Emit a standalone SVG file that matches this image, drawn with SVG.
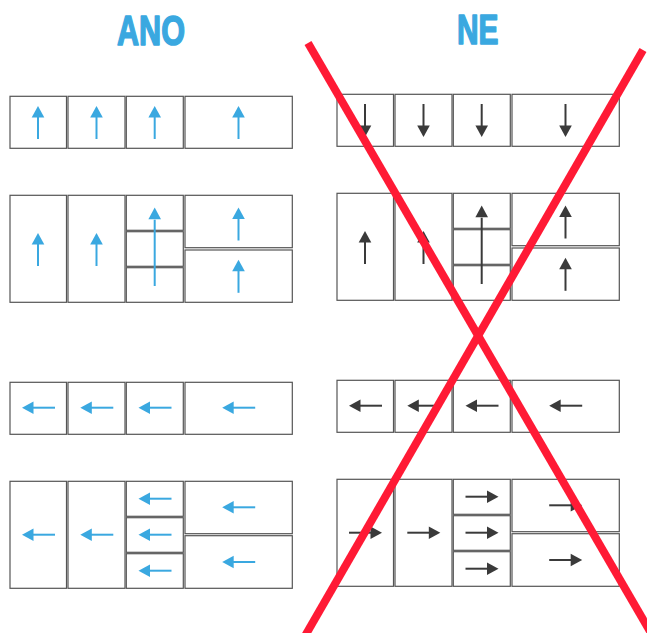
<svg xmlns="http://www.w3.org/2000/svg" xmlns:xlink="http://www.w3.org/1999/xlink" width="647" height="633" viewBox="0 0 647 633">
<style>
.box{fill:#fff;stroke:#555;stroke-width:1.2}
.blue{color:#3aa8e0}
.dark{color:#3a3a3a}
.title{font-family:"Liberation Sans","DejaVu Sans",sans-serif;font-weight:bold;font-size:42px;fill:#3aa8e0;stroke:#3aa8e0;stroke-width:1.6;stroke-linejoin:round}
.cross{stroke:#ff1a35;stroke-width:8;fill:none}
</style>
<defs>
<g id="up">
<line x1="0" y1="-6" x2="0" y2="16.5" stroke="currentColor" stroke-width="2"/>
<polygon points="0,-16.5 -6.3,-5 6.3,-5" fill="currentColor"/>
</g>
<g id="uplong">
<line x1="0" y1="-27" x2="0" y2="39.3" stroke="currentColor" stroke-width="2"/>
<polygon points="0,-39.3 -6.3,-27.5 6.3,-27.5" fill="currentColor"/>
</g>
</defs>
<rect width="647" height="633" fill="#fff"/>
<g id="title-ano"><text class="title" x="117" y="45" textLength="68" lengthAdjust="spacingAndGlyphs">ANO</text></g>
<g id="title-ne"><text class="title" x="457" y="43.5" textLength="41.5" lengthAdjust="spacingAndGlyphs">NE</text></g>

<!-- LEFT: ANO -->
<g id="ano-row1">
<rect class="box" x="10" y="96.3" width="56.5" height="52"/>
<rect class="box" x="68" y="96.3" width="57" height="52"/>
<rect class="box" x="126.3" y="96.3" width="57" height="52"/>
<rect class="box" x="185" y="96.3" width="107.3" height="52"/>
<g class="blue">
<use xlink:href="#up" transform="translate(38,122.5)"/>
<use xlink:href="#up" transform="translate(96.5,122.5)"/>
<use xlink:href="#up" transform="translate(154.7,122.5)"/>
<use xlink:href="#up" transform="translate(238.5,122.5)"/>
</g>
</g>
<g id="ano-row2">
<rect class="box" x="10" y="195.3" width="56.5" height="107"/>
<rect class="box" x="68" y="195.3" width="57" height="107"/>
<rect class="box" x="126.3" y="195.3" width="57" height="35"/>
<rect class="box" x="126.3" y="231.7" width="57" height="34.6"/>
<rect class="box" x="126.3" y="267.7" width="57" height="34.6"/>
<rect class="box" x="185" y="195.3" width="107.3" height="52.4"/>
<rect class="box" x="185" y="250" width="107.3" height="52.3"/>
<g class="blue">
<use xlink:href="#up" transform="translate(38,249.5)"/>
<use xlink:href="#up" transform="translate(96.5,249.5)"/>
<use xlink:href="#uplong" transform="translate(154.7,246.7)"/>
<use xlink:href="#up" transform="translate(238.5,224)"/>
<use xlink:href="#up" transform="translate(238.5,276.3)"/>
</g>
</g>
<g id="ano-row3">
<rect class="box" x="10" y="382.3" width="56.5" height="52"/>
<rect class="box" x="68" y="382.3" width="57" height="52"/>
<rect class="box" x="126.3" y="382.3" width="57" height="52"/>
<rect class="box" x="185" y="382.3" width="107.3" height="52"/>
<g class="blue">
<use xlink:href="#up" transform="translate(38.5,407.7) rotate(-90)"/>
<use xlink:href="#up" transform="translate(96.8,407.7) rotate(-90)"/>
<use xlink:href="#up" transform="translate(155,407.7) rotate(-90)"/>
<use xlink:href="#up" transform="translate(238.7,407.7) rotate(-90)"/>
</g>
</g>
<g id="ano-row4">
<rect class="box" x="10" y="481.3" width="56.5" height="107"/>
<rect class="box" x="68" y="481.3" width="57" height="107"/>
<rect class="box" x="126.3" y="481.3" width="57" height="35"/>
<rect class="box" x="126.3" y="517.7" width="57" height="34.6"/>
<rect class="box" x="126.3" y="553.7" width="57" height="34.6"/>
<rect class="box" x="185" y="481.3" width="107.3" height="52.4"/>
<rect class="box" x="185" y="535.7" width="107.3" height="52.6"/>
<g class="blue">
<use xlink:href="#up" transform="translate(38.5,534.7) rotate(-90)"/>
<use xlink:href="#up" transform="translate(96.8,534.7) rotate(-90)"/>
<use xlink:href="#up" transform="translate(155,498.7) rotate(-90)"/>
<use xlink:href="#up" transform="translate(155,534.7) rotate(-90)"/>
<use xlink:href="#up" transform="translate(155,570.7) rotate(-90)"/>
<use xlink:href="#up" transform="translate(238.7,507.3) rotate(-90)"/>
<use xlink:href="#up" transform="translate(238.7,562) rotate(-90)"/>
</g>
</g>

<!-- RIGHT: NE -->
<g id="ne-row1">
<rect class="box" x="337" y="94.3" width="56.5" height="52"/>
<rect class="box" x="395" y="94.3" width="57" height="52"/>
<rect class="box" x="453.3" y="94.3" width="57" height="52"/>
<rect class="box" x="512" y="94.3" width="107.3" height="52"/>
<g class="dark">
<use xlink:href="#up" transform="translate(365,120.5) rotate(180)"/>
<use xlink:href="#up" transform="translate(423.5,120.5) rotate(180)"/>
<use xlink:href="#up" transform="translate(481.7,120.5) rotate(180)"/>
<use xlink:href="#up" transform="translate(565.5,120.5) rotate(180)"/>
</g>
</g>
<g id="ne-row2">
<rect class="box" x="337" y="193.3" width="56.5" height="107"/>
<rect class="box" x="395" y="193.3" width="57" height="107"/>
<rect class="box" x="453.3" y="193.3" width="57" height="35"/>
<rect class="box" x="453.3" y="229.7" width="57" height="34.6"/>
<rect class="box" x="453.3" y="265.7" width="57" height="34.6"/>
<rect class="box" x="512" y="193.3" width="107.3" height="52.4"/>
<rect class="box" x="512" y="248" width="107.3" height="52.3"/>
<g class="dark">
<use xlink:href="#up" transform="translate(365,247.5)"/>
<use xlink:href="#up" transform="translate(423.5,247.5)"/>
<use xlink:href="#uplong" transform="translate(481.7,244.7)"/>
<use xlink:href="#up" transform="translate(565.5,222)"/>
<use xlink:href="#up" transform="translate(565.5,274.3)"/>
</g>
</g>
<g id="ne-row3">
<rect class="box" x="337" y="380.3" width="56.5" height="52"/>
<rect class="box" x="395" y="380.3" width="57" height="52"/>
<rect class="box" x="453.3" y="380.3" width="57" height="52"/>
<rect class="box" x="512" y="380.3" width="107.3" height="52"/>
<g class="dark">
<use xlink:href="#up" transform="translate(365.5,405.7) rotate(-90)"/>
<use xlink:href="#up" transform="translate(423.8,405.7) rotate(-90)"/>
<use xlink:href="#up" transform="translate(482,405.7) rotate(-90)"/>
<use xlink:href="#up" transform="translate(565.7,405.7) rotate(-90)"/>
</g>
</g>
<g id="ne-row4">
<rect class="box" x="337" y="479.3" width="56.5" height="107"/>
<rect class="box" x="395" y="479.3" width="57" height="107"/>
<rect class="box" x="453.3" y="479.3" width="57" height="35"/>
<rect class="box" x="453.3" y="515.7" width="57" height="34.6"/>
<rect class="box" x="453.3" y="551.7" width="57" height="34.6"/>
<rect class="box" x="512" y="479.3" width="107.3" height="52.4"/>
<rect class="box" x="512" y="533.7" width="107.3" height="52.6"/>
<g class="dark">
<use xlink:href="#up" transform="translate(365.5,532.7) rotate(90)"/>
<use xlink:href="#up" transform="translate(423.8,532.7) rotate(90)"/>
<use xlink:href="#up" transform="translate(482,496.7) rotate(90)"/>
<use xlink:href="#up" transform="translate(482,532.7) rotate(90)"/>
<use xlink:href="#up" transform="translate(482,568.7) rotate(90)"/>
<use xlink:href="#up" transform="translate(565.7,505.3) rotate(90)"/>
<use xlink:href="#up" transform="translate(565.7,560) rotate(90)"/>
</g>
</g>

<g id="cross">
<line class="cross" x1="308" y1="43" x2="651" y2="633"/>
<line class="cross" x1="643" y1="50" x2="305" y2="636"/>
</g>
</svg>
